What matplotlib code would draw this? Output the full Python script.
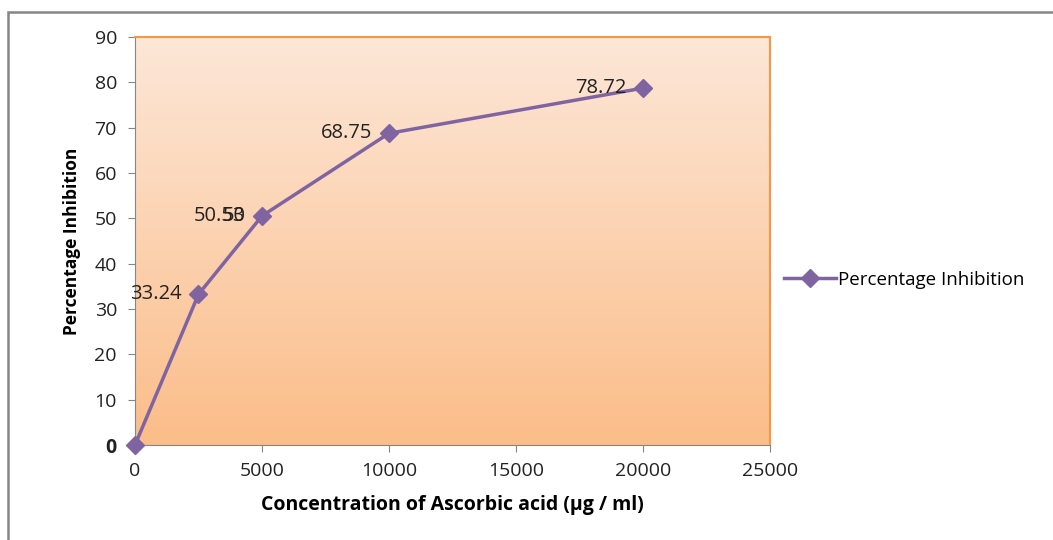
import numpy as np
import matplotlib.pyplot as plt
from matplotlib.patches import Rectangle
from matplotlib.colors import LinearSegmentedColormap

plt.rcParams['font.family'] = ['Open Sans', 'DejaVu Sans']

conc = [0, 2500, 5000, 10000, 20000]
inhibition = [0, 33.24, 50.53, 68.75, 78.72]
point_labels = ['', '33.24', '50.53', '68.75', '78.72']

fig = plt.figure(figsize=(10.53, 5.4), dpi=100)
ax = fig.add_axes([0.1282, 0.1759, 0.603, 0.7556])

# outer chart frame
fig.patches.append(Rectangle((8 / 1053, -0.05), 1.1, 1 - 12 / 540 + 0.05,
                             transform=fig.transFigure, fill=False,
                             edgecolor='#868686', linewidth=1.8))

# gradient plot area (orange at bottom, pale peach at top)
cmap = LinearSegmentedColormap.from_list('peach', ['#fbbd89', '#fde7d8'])
grad = np.linspace(0, 1, 256).reshape(-1, 1)
ax.imshow(grad, cmap=cmap, aspect='auto', origin='lower',
          extent=[0, 25000, 0, 90], zorder=0)

ax.plot(conc, inhibition, color='#8064a2', linewidth=2.5, marker='D',
        markersize=9, zorder=3, label='Percentage Inhibition', clip_on=False)

for x, y, t in zip(conc, inhibition, point_labels):
    if t:
        ax.annotate(t, (x, y), xytext=(-12, 0), textcoords='offset points',
                    ha='right', va='center', fontsize=14.5, color='#222222')
# overlapping label as in the original
ax.annotate('50', (5000, 50.53), xytext=(-12, 0), textcoords='offset points',
            ha='right', va='center', fontsize=14.5, color='#222222')

ax.set_xlim(0, 25000)
ax.set_ylim(0, 90)
ax.set_xticks(np.arange(0, 25001, 5000))
ax.set_yticks(np.arange(0, 91, 10))
ax.tick_params(labelsize=14, colors='#222222', length=5, color='#868686')
ax.tick_params(axis='x', pad=7)
ax.tick_params(axis='y', pad=8)
ax.get_yticklabels()[0].set_fontweight('bold')

for s in ['left', 'bottom']:
    ax.spines[s].set_color('#868686')
for s in ['top', 'right']:
    ax.spines[s].set_color('#f79646')
    ax.spines[s].set_linewidth(1.5)

ax.set_xlabel('Concentration of Ascorbic acid (µg / ml)', fontsize=14,
              fontweight='bold', labelpad=11)
ax.set_ylabel('Percentage Inhibition', fontsize=12.5, fontweight='bold',
              labelpad=10)

ax.legend(loc='center left', bbox_to_anchor=(0.995, 0.405), frameon=False,
          fontsize=13.5, handlelength=2.8, handletextpad=0.1)

fig.savefig('out.png', dpi=100)
